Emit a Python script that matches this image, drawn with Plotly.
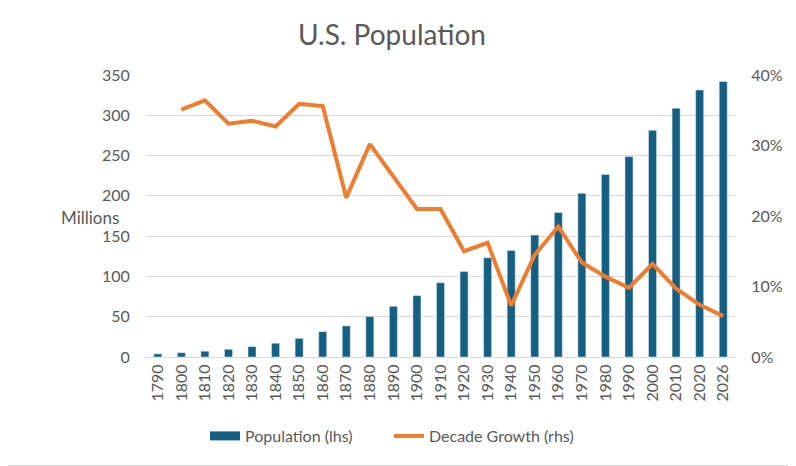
import plotly.graph_objects as go

# census years (last one is a 2026 estimate)
years = ["1790", "1800", "1810", "1820", "1830", "1840", "1850", "1860",
         "1870", "1880", "1890", "1900", "1910", "1920", "1930", "1940",
         "1950", "1960", "1970", "1980", "1990", "2000", "2010", "2020", "2026"]

# population in millions
population = [3.9, 5.3, 7.2, 9.6, 12.9, 17.1, 23.2, 31.4, 38.6, 50.2, 62.9, 76.2,
              92.2, 106.0, 123.2, 132.2, 151.3, 179.3, 203.2, 226.5, 248.7,
              281.4, 308.7, 331.4, 342.0]

# growth over previous decade (no value for 1790)
growth = [None, 0.351, 0.364, 0.331, 0.335, 0.327, 0.359, 0.356, 0.226, 0.302,
          0.255, 0.210, 0.210, 0.150, 0.162, 0.073, 0.145, 0.185, 0.134, 0.114,
          0.098, 0.132, 0.097, 0.074, 0.058]

BLUE = "#156082"
ORANGE = "#ED7D31"
GREY = "#595959"
FONT = "Lato"

# page body has an 8px margin, so the figure is pulled up/left by that much
OFF = 8
W, H = 796, 466
PW, PH = 589, 282          # plot area size
L, T = 146 - OFF, 75 - OFF


def legend_at(px):
    # one legend box per entry so each key sits where Excel put it
    return dict(orientation="h", x=(px - 146) / PW, xanchor="left",
                y=(357 - 436) / PH, yanchor="middle",
                font=dict(size=16, color=GREY), itemwidth=30)


fig = go.Figure()
fig.add_trace(go.Bar(x=years, y=population, name="Population (lhs)",
                     marker_color=BLUE, showlegend=False))
# legend-only stand-in so the bar key is a wide block like Excel's
fig.add_trace(go.Scatter(x=[None], y=[None], name="Population (lhs)",
                         mode="lines", line=dict(color=BLUE, width=9),
                         legend="legend"))
fig.add_trace(go.Scatter(x=years, y=growth, name="Decade Growth (rhs)",
                         mode="lines", yaxis="y2", legend="legend2",
                         line=dict(color=ORANGE, width=4)))

fig.update_layout(
    width=W, height=H,
    margin=dict(l=L, r=W - L - PW, t=T, b=H - T - PH, autoexpand=False),
    paper_bgcolor="white", plot_bgcolor="white",
    font=dict(family=FONT, size=14, color=GREY),
    title=dict(text="U.S. Population", x=(392 - OFF) / W, xanchor="center",
               y=1 - (35 - OFF) / H, yanchor="middle",
               font=dict(size=28, color=GREY)),
    bargap=0.66,
    showlegend=True,
    legend=legend_at(205),
    legend2=legend_at(389),
    xaxis=dict(type="category", tickangle=-90, showgrid=False,
               showline=True, linecolor="#D9D9D9", ticks="",
               tickfont=dict(size=16)),
    yaxis=dict(range=[0, 350], dtick=50, showgrid=True, gridcolor="#D9D9D9",
               zeroline=False, showline=False, ticks="outside",
               ticklen=12, tickcolor="white", tickfont=dict(size=16)),
    yaxis2=dict(range=[0, 0.4], dtick=0.1, tickformat=".0%", overlaying="y",
                side="right", showgrid=False, zeroline=False,
                ticks="outside", ticklen=12, tickcolor="white",
                tickfont=dict(size=16)),
    annotations=[dict(text="Millions", xref="paper", yref="paper",
                      x=(90 - 146) / PW, y=(357 - 217) / PH,
                      xanchor="center", yanchor="middle", showarrow=False,
                      font=dict(size=17, color=GREY))],
    # chart border (left/top edges fall outside the figure)
    shapes=[dict(type="rect", xref="paper", yref="paper",
                 x0=(0.5 - 146) / PW, x1=(795.5 - 146) / PW,
                 y0=(357 - 465.5) / PH, y1=(357 - 0.5) / PH,
                 line=dict(color="#D9D9D9", width=1))],
)

fig.write_html("out.html")
